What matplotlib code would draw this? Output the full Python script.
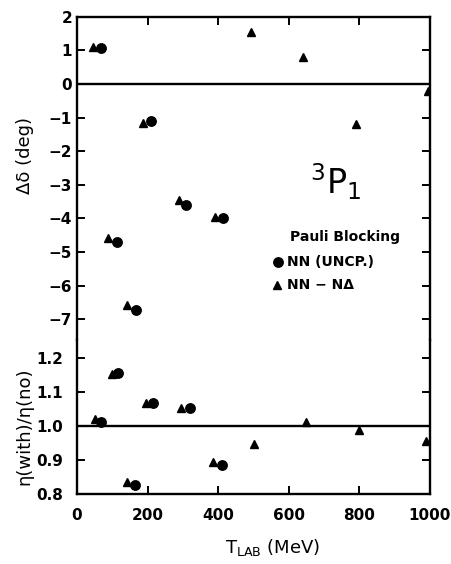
import matplotlib
matplotlib.use("Agg")
import matplotlib.pyplot as plt

plt.rcParams['font.family'] = ['DejaVu Sans']
plt.rcParams['mathtext.fontset'] = 'dejavusans'

# ---- data ----
# upper panel: phase-shift change (deg)
tri_E_top = [45, 89, 141, 186, 289, 391, 492, 641, 790, 995]
tri_dd = [1.10, -4.58, -6.59, -1.15, -3.46, -3.95, 1.53, 0.79, -1.19, -0.20]
circ_E_top = [67, 112, 167, 211, 309, 413]
circ_dd = [1.08, -4.70, -6.74, -1.10, -3.59, -3.99]

# lower panel: inelasticity ratio
tri_E_bot = [51, 98, 141, 195, 296, 386, 502, 649, 799, 990]
tri_eta = [1.020, 1.153, 0.836, 1.067, 1.052, 0.894, 0.947, 1.012, 0.988, 0.956]
circ_E_bot = [68, 117, 164, 216, 320, 410]
circ_eta = [1.013, 1.155, 0.826, 1.069, 1.052, 0.885]

top_yticks = [2, 1, 0, -1, -2, -3, -4, -5, -6, -7]
bot_yticks = [0.8, 0.9, 1.0, 1.1, 1.2]
bot_yticklabels = ["0.8", "0.9", "1.0", "1.1", "1.2"]
xticks = [0, 200, 400, 600, 800, 1000]

fig = plt.figure(figsize=(4.52, 5.64), dpi=100)
L, W = 77 / 452, 353 / 452
ax1 = fig.add_axes([L, (564 - 340) / 564, W, (340 - 16.7) / 564])
ax2 = fig.add_axes([L, (564 - 494) / 564, W, 154 / 564])

lw = 1.7
for ax in (ax1, ax2):
    for s in ax.spines.values():
        s.set_linewidth(lw)
    ax.set_xlim(0, 1000)
    ax.set_xticks(xticks)
    ax.tick_params(direction='in', length=6, width=1.4, labelsize=11,
                   left=True, right=True)
    for lab in ax.get_xticklabels() + ax.get_yticklabels():
        lab.set_fontweight('bold')
ax1.spines['bottom'].set_visible(False)
ax2.spines['top'].set_visible(False)

ax1.tick_params(top=True, bottom=False, labelbottom=False)
ax2.tick_params(top=False, bottom=True, pad=10)

ax1.set_ylim(-7.62, 2.0)
ax1.set_yticks(top_yticks)
ax1.set_yticklabels([str(v).replace('-', '\u2212') for v in top_yticks], fontweight='bold')
ax2.set_ylim(0.8, 1.253)
ax2.set_yticks(bot_yticks)
ax2.set_yticklabels(bot_yticklabels, fontweight='bold')
ax2.set_xticklabels([str(v) for v in xticks], fontweight='bold')

ax1.axhline(0, color='black', lw=1.7)
ax2.axhline(1.0, color='black', lw=1.7)

ms_c, ms_t = 6.8, 6.0
ax1.plot(tri_E_top, tri_dd, linestyle='none', marker='^', ms=ms_t, color='black')
ax1.plot(circ_E_top, circ_dd, linestyle='none', marker='o', ms=ms_c, color='black')
ax2.plot(tri_E_bot, tri_eta, linestyle='none', marker='^', ms=ms_t, color='black')
ax2.plot(circ_E_bot, circ_eta, linestyle='none', marker='o', ms=ms_c, color='black')

# annotations
ax1.text(0.734, 0.489, r"$^{\mathsf{3}}\mathsf{P}_{\mathsf{1}}$", transform=ax1.transAxes,
         fontsize=24, ha='center', va='center')
ax1.text(0.603, 0.319, "Pauli Blocking", transform=ax1.transAxes, fontsize=10,
         ha='left', va='center', fontweight='bold')
ax1.plot([0.569], [0.241], marker='o', ms=ms_c, color='black', transform=ax1.transAxes,
         clip_on=False)
ax1.text(0.595, 0.241, "NN (UNCP.)", transform=ax1.transAxes, fontsize=10,
         ha='left', va='center', fontweight='bold')
ax1.plot([0.567], [0.170], marker='^', ms=ms_t, color='black', transform=ax1.transAxes,
         clip_on=False)
ax1.text(0.595, 0.170, "NN \u2212 N\u0394", transform=ax1.transAxes, fontsize=10,
         ha='left', va='center', fontweight='bold')

fig.text(0.055, 0.725, "\u0394\u03b4 (deg)", rotation=90, fontsize=13,
         ha='center', va='center')
fig.text(0.055, 0.245, "\u03b7(with)/\u03b7(no)", rotation=90, fontsize=13,
         ha='center', va='center')
fig.text(0.604, 0.030, r"T$_{\mathsf{LAB}}$ (MeV)", fontsize=13, ha='center', va='center')

fig.savefig("out.png", dpi=100)
